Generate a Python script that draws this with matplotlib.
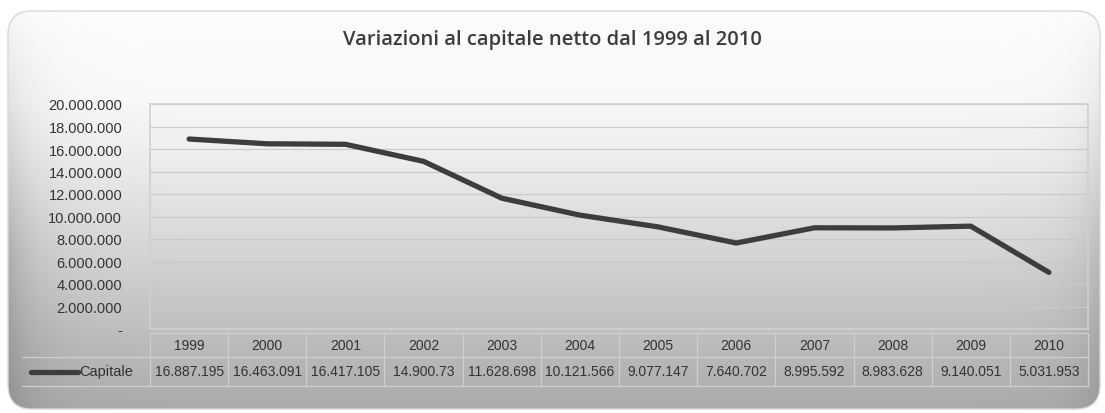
import numpy as np
import matplotlib
matplotlib.use("Agg")
import matplotlib.pyplot as plt
from matplotlib.patches import FancyBboxPatch
import matplotlib.transforms as mtransforms

years = ["1999", "2000", "2001", "2002", "2003", "2004", "2005", "2006", "2007", "2008", "2009", "2010"]
capitale = [16887195, 16463091, 16417105, 14900730, 11628698, 10121566, 9077147, 7640702, 8995592, 8983628, 9140051, 5031953]
value_labels = ["16.887.195", "16.463.091", "16.417.105", "14.900.73", "11.628.698", "10.121.566",
                "9.077.147", "7.640.702", "8.995.592", "8.983.628", "9.140.051", "5.031.953"]
yticks = [0, 2000000, 4000000, 6000000, 8000000, 10000000, 12000000, 14000000, 16000000, 18000000, 20000000]
ytick_labels = ["-", "2.000.000", "4.000.000", "6.000.000", "8.000.000", "10.000.000", "12.000.000",
                "14.000.000", "16.000.000", "18.000.000", "20.000.000"]
title = "Variazioni al capitale netto dal 1999 al 2010"
series_name = "Capitale"

W, H = 1105, 414
fig = plt.figure(figsize=(W / 100, H / 100), dpi=100)
fig.patch.set_facecolor("white")

# background axes with rounded gradient panel
bg = fig.add_axes([0, 0, 1, 1])
bg.set_xlim(0, W)
bg.set_ylim(H, 0)
bg.axis("off")
py = np.linspace(12, 410, 400)[:, None]
px = np.linspace(8, 1100, 800)[None, :]
vert = np.interp(py, [12, 100, 160, 250, 330, 410], [0.99, 0.975, 0.93, 0.84, 0.75, 0.67])
edge = np.exp(-(px - 8) / 30.0) + 0.7 * np.exp(-(1100 - px) / 25.0)
edge_w = np.interp(py, [12, 120, 250, 410], [0.02, 0.10, 0.15, 0.10])
shade = np.clip(vert - edge * edge_w, 0, 1)
img = bg.imshow(np.dstack([shade, shade, shade]), extent=[8, 1100, 410, 12], aspect="auto",
                zorder=0, interpolation="bilinear")
panel = FancyBboxPatch((8, 12), 1092, 398, boxstyle="round,pad=0,rounding_size=24",
                       facecolor="none", edgecolor="#d8d8d8", lw=1.0, zorder=1)
bg.add_patch(panel)
img.set_clip_path(panel)

fig.text(0.5, 1 - 40 / H, title, ha="center", va="center", fontsize=14.5, color="#3c3c3c",
         family="Open Sans", weight="semibold")

# main plot axes
L, R, T, B = 150, 1088, 105, 330
ax = fig.add_axes([L / W, 1 - B / H, (R - L) / W, (B - T) / H])
ax.set_facecolor("none")
x = np.arange(len(years))
ax.plot(x, capitale, color="#3d3d3d", lw=3.8, solid_capstyle="round", solid_joinstyle="round", zorder=3)
ax.set_xlim(-0.5, len(years) - 0.5)
ax.set_ylim(0, 20000000)
ax.set_yticks(yticks)
ax.set_yticklabels(ytick_labels, family="Liberation Sans")
ax.tick_params(axis="y", length=0, pad=20, labelsize=10.5, labelcolor="#333333")
ax.set_xticks([])
ax.grid(axis="y", color="#c9c9c9", lw=0.8)
ax.set_axisbelow(True)
for s in ax.spines.values():
    s.set_color("#d0d0d0")
    s.set_linewidth(1.2)

# data table below
trans = mtransforms.blended_transform_factory(ax.transData, ax.transAxes)
ph = B - T
r0 = -4 / ph
r1 = -28 / ph
r2 = -57 / ph
lc = "#cfcfcf"
for i in range(len(years) + 1):
    ax.plot([i - 0.5, i - 0.5], [r0, r2], transform=trans, color=lc, lw=0.9, clip_on=False)
ax.plot([-0.5, len(years) - 0.5], [r0, r0], transform=trans, color=lc, lw=0.9, clip_on=False)
ax.plot([-0.5, len(years) - 0.5], [r1, r1], transform=trans, color=lc, lw=0.9, clip_on=False)
legend_left = (22 - L) / (R - L) * len(years) - 0.5
ax.plot([legend_left, len(years) - 0.5], [r2, r2], transform=trans, color=lc, lw=0.9, clip_on=False)
ax.plot([legend_left, -0.5], [r1, r1], transform=trans, color=lc, lw=0.9, clip_on=False)
for i, (yr, lab) in enumerate(zip(years, value_labels)):
    ax.text(i, (r0 + r1) / 2, yr, transform=trans, ha="center", va="center", fontsize=10,
            color="#333333", family="Liberation Sans")
    ax.text(i, (r1 + r2) / 2, lab, transform=trans, ha="center", va="center", fontsize=10,
            color="#333333", family="Liberation Sans")

# legend key inside table
lx0 = (31 - L) / (R - L) * len(years) - 0.5
lx1 = (78 - L) / (R - L) * len(years) - 0.5
ax.plot([lx0, lx1], [(r1 + r2) / 2] * 2, transform=trans, color="#3d3d3d", lw=3.8,
        solid_capstyle="round", clip_on=False)
ax.text((79 - L) / (R - L) * len(years) - 0.5, (r1 + r2) / 2, series_name, transform=trans,
        ha="left", va="center", fontsize=10.5, color="#333333", family="Liberation Sans")

fig.savefig("out.png", dpi=100)
